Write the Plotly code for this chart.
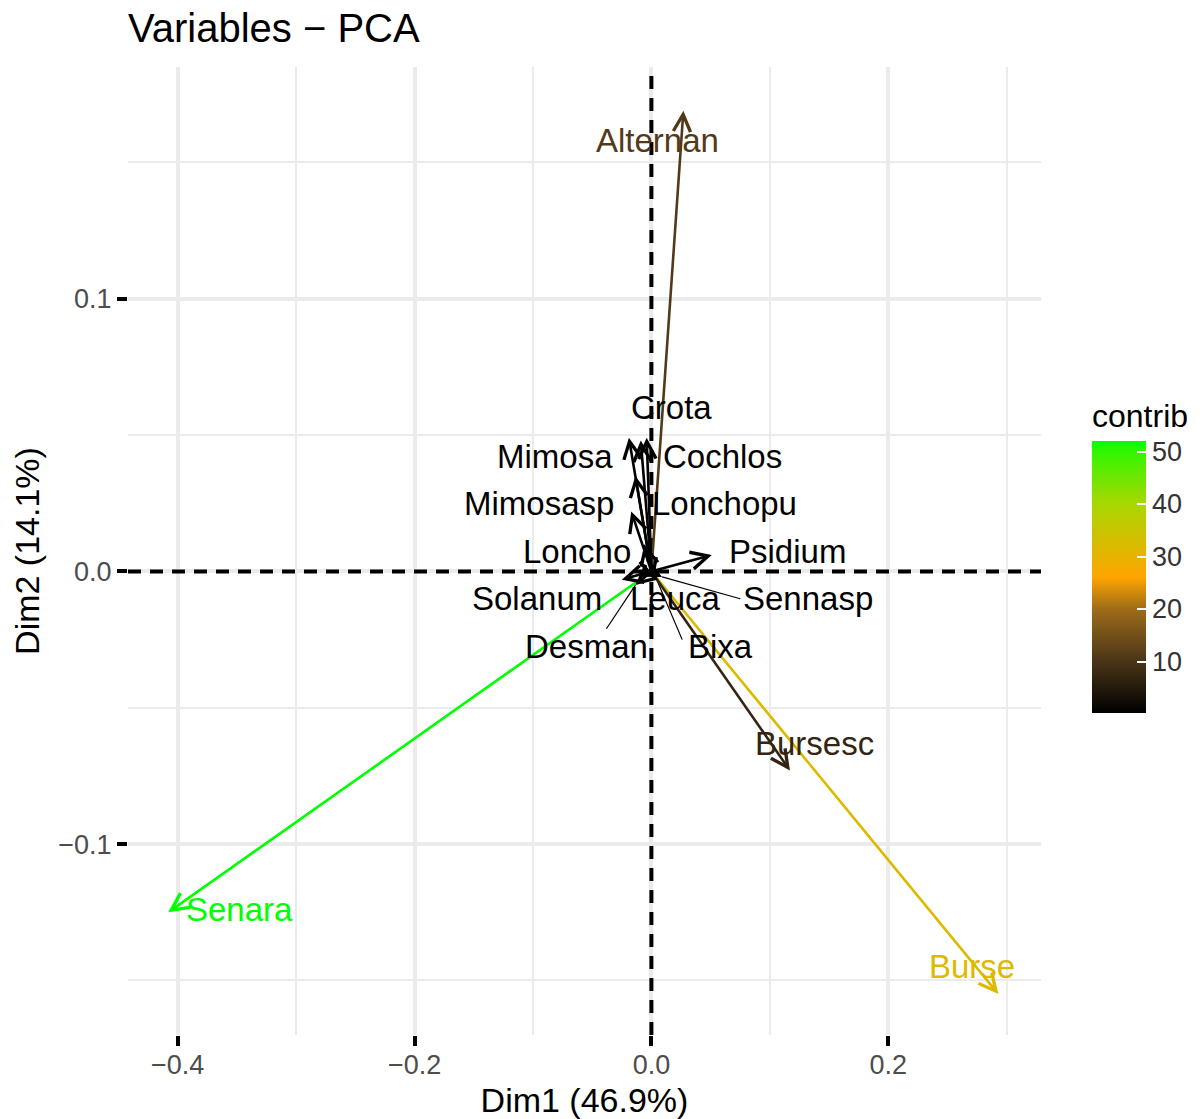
import plotly.graph_objects as go
from plotly.colors import sample_colorscale

# ---- data ----
variables = ["Alternan", "Senara", "Burse", "Bursesc", "Psidium", "Crota", "Mimosa",
             "Cochlos", "Mimosasp", "Lonchopu", "Loncho", "Solanum", "Leuca",
             "Sennasp", "Desman", "Bixa"]
dim1 = [0.027, -0.408, 0.293, 0.117, 0.051, -0.004, -0.019,
        -0.009, -0.0135, -0.017, -0.006, -0.025, 0.002,
        0.009, -0.0135, 0.003]
dim2 = [0.169, -0.125, -0.155, -0.073, 0.006, 0.049, 0.049,
        0.048, 0.035, 0.022, 0.010, -0.003, -0.003,
        -0.002, -0.005, -0.0015]
contrib = [11.0, 52.0, 31.5, 7.0, 0.75, 0.7, 0.75,
           0.7, 0.45, 0.35, 0.2, 0.2, 0.2,
           0.2, 0.2, 0.2]
# repelled label positions (data units)
label_x = [0.005, -0.348, 0.271, 0.138, 0.115, 0.017, -0.081,
           0.060, -0.095, 0.062, -0.063, -0.097, 0.020,
           0.132, -0.055, 0.058]
label_y = [0.158, -0.124, -0.145, -0.063, 0.0073, 0.060, 0.042,
           0.042, 0.025, 0.025, 0.0073, -0.0099, -0.0099,
           -0.0099, -0.0275, -0.0275]
# repel segment ends for labels pushed away from their points
seg_names = ["Sennasp", "Bixa", "Desman"]
seg_x = [0.075, 0.026, -0.038]
seg_y = [-0.0100, -0.025, -0.021]

x_ticks = [-0.4, -0.2, 0.0, 0.2]
y_ticks = [-0.1, 0.0, 0.1]
cb_ticks = [10, 20, 30, 40, 50]

cmin, cmax = 0.2, 52.0
colorscale = [[0.0, "#000000"], [0.19, "#4a3519"], [0.38, "#9c6b18"],
              [0.5, "#ffa500"], [0.577, "#e6b400"], [0.77, "#a8d800"],
              [0.96, "#33f500"], [1.0, "#00ff00"]]

def col(v):
    return sample_colorscale(colorscale, [(v - cmin) / (cmax - cmin)])[0]

FONT = "Liberation Sans, Arial, sans-serif"
fig = go.Figure()

# dummy trace for colourbar
fig.add_trace(go.Scatter(
    x=[dim1[0]], y=[dim2[0]], mode="markers",
    marker=dict(size=0.1, opacity=0, color=[contrib[0]], cmin=cmin, cmax=cmax,
                colorscale=colorscale, showscale=True,
                colorbar=dict(
                    title=dict(text="contrib", side="top",
                               font=dict(family=FONT, size=32, color="#000000")),
                    x=1.0547, xanchor="left", y=(1035 - 713) / 968, yanchor="bottom",
                    len=313, lenmode="pixels", thickness=54, thicknessmode="pixels",
                    outlinewidth=0, tickvals=cb_ticks, ticks="inside",
                    tickcolor="white", ticklen=9, tickwidth=2,
                    tickprefix="\u2002",
                    tickfont=dict(family=FONT, size=27, color="#333333"),
                    ypad=0, xpad=0)),
    hoverinfo="skip", showlegend=False))

# segments from point to repelled label
for name, sx, sy in zip(seg_names, seg_x, seg_y):
    i = variables.index(name)
    fig.add_trace(go.Scatter(x=[dim1[i], sx], y=[dim2[i], sy], mode="lines",
                             line=dict(color=col(contrib[i]), width=1.2),
                             hoverinfo="skip", showlegend=False))

# arrows
for i, v in enumerate(variables):
    c = col(contrib[i])
    fig.add_annotation(x=dim1[i], y=dim2[i], ax=0, ay=0, xref="x", yref="y",
                       axref="x", ayref="y", text="", showarrow=True,
                       arrowhead=5, arrowsize=1.3, arrowwidth=2.6,
                       arrowcolor=c, standoff=0)

# labels
for i, v in enumerate(variables):
    fig.add_annotation(x=label_x[i], y=label_y[i], xref="x", yref="y", text=v,
                       showarrow=False, xanchor="center", yanchor="middle",
                       font=dict(family=FONT, size=33, color=col(contrib[i])))

# dashed zero lines
fig.add_shape(type="line", xref="x", yref="paper", x0=0, x1=0, y0=0, y1=1,
              line=dict(color="black", width=4, dash="13px,9px"), layer="above")
fig.add_shape(type="line", xref="paper", yref="y", x0=0, x1=1, y0=0, y1=0,
              line=dict(color="black", width=4, dash="13px,9px"), layer="above")

fig.update_layout(
    width=1202, height=1119,
    margin=dict(l=128, r=160, t=67, b=84),
    paper_bgcolor="white", plot_bgcolor="white",
    font=dict(family=FONT),
    title=dict(text="Variables \u2212 PCA", x=0, xref="paper", xanchor="left",
               y=1 - 28 / 1119, yref="container", yanchor="middle",
               font=dict(family=FONT, size=40, color="#000000")),
    xaxis=dict(range=[-0.442, 0.329], tickvals=x_ticks, tickformat=".1f",
               showgrid=True, gridcolor="#ebebeb", gridwidth=4, zeroline=False,
               ticks="outside", ticklen=10, tickwidth=4, tickcolor="black",
               ticklabelstandoff=-4,
               tickfont=dict(family=FONT, size=27, color="#4d4d4d"),
               minor=dict(dtick=0.1, tick0=0, showgrid=True, gridcolor="#ebebeb",
                          gridwidth=2, ticks=""),
               title=dict(text="Dim1 (46.9%)", standoff=8,
                          font=dict(family=FONT, size=34, color="#000000")),
               showline=False, automargin=False),
    yaxis=dict(range=[-0.170, 0.185], tickvals=y_ticks, tickformat=".1f",
               showgrid=True, gridcolor="#ebebeb", gridwidth=4, zeroline=False,
               ticks="outside", ticklen=10, tickwidth=4, tickcolor="black",
               tickfont=dict(family=FONT, size=27, color="#4d4d4d"),
               minor=dict(dtick=0.05, tick0=0, showgrid=True, gridcolor="#ebebeb",
                          gridwidth=2, ticks=""),
               title=dict(text="Dim2 (14.1%)", standoff=8,
                          font=dict(family=FONT, size=34, color="#000000")),
               showline=False, automargin=False),
)

fig.write_html("out.html")
